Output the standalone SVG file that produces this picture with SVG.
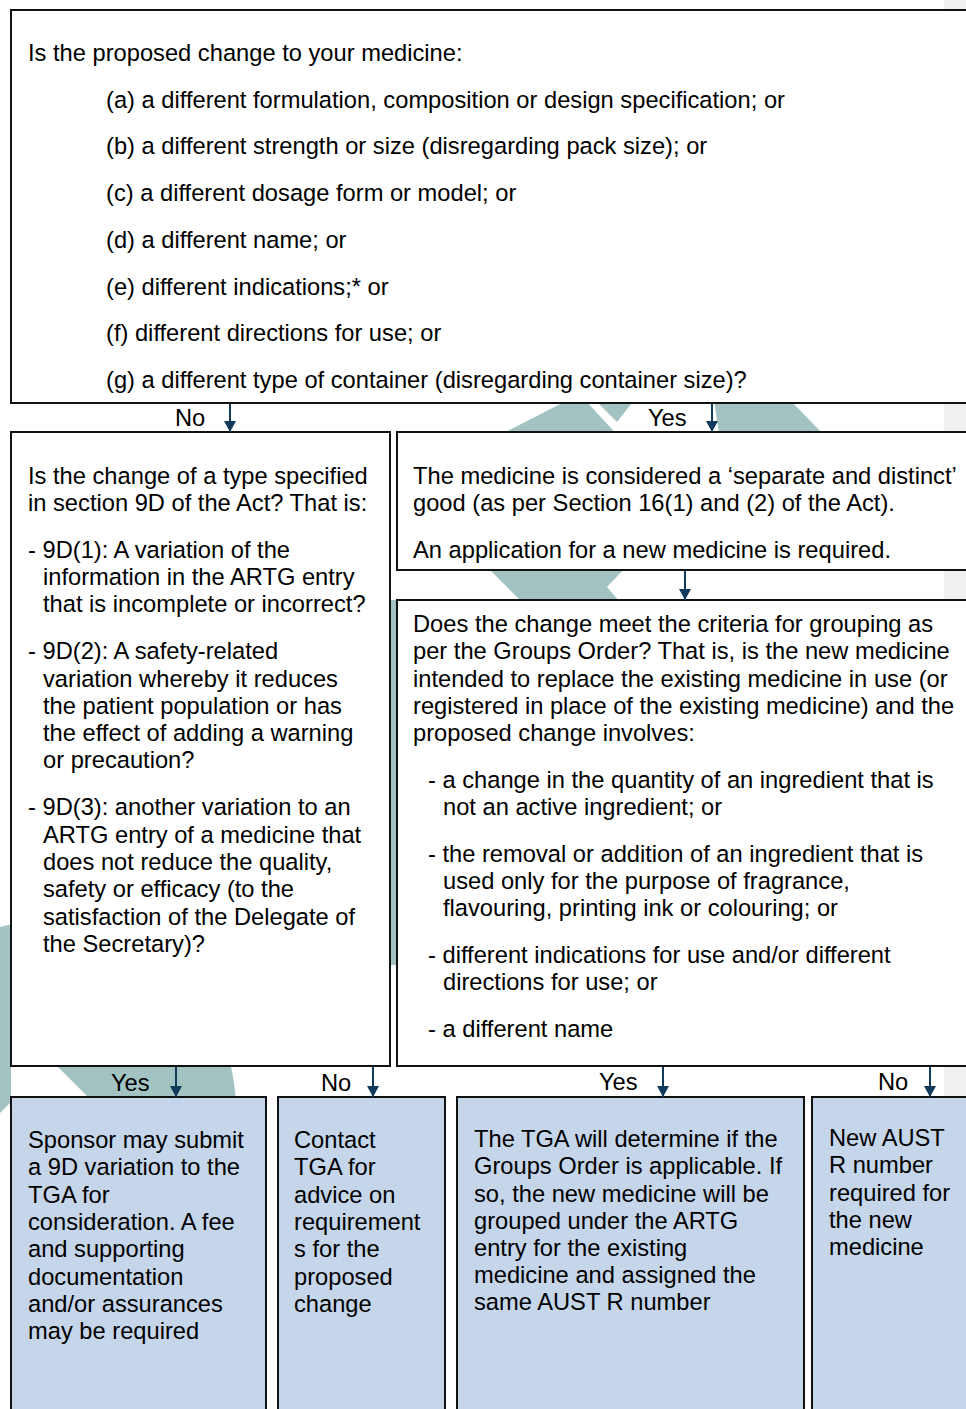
<svg xmlns="http://www.w3.org/2000/svg" width="966" height="1409" viewBox="0 0 966 1409">
<defs>
<style>
.t{font-family:"Liberation Sans",Arial,sans-serif;font-size:23.7px;fill:#000}
.box{fill:#fff;stroke:#111;stroke-width:2}
.out{fill:#c5d5ea;stroke:#111;stroke-width:2}
.wm{fill:#a3c2c2}
.arr{stroke:#0f3a5c;stroke-width:2;fill:none;marker-end:url(#ah)}
</style>
<marker id="ah" markerUnits="userSpaceOnUse" markerWidth="11" markerHeight="12" refX="11" refY="6" orient="auto" viewBox="0 0 11 12">
<path d="M0,0 L11,6 L0,12 z" fill="#0f3a5c"/>
</marker>
</defs>
<rect x="0" y="0" width="966" height="1409" fill="#fff"/>
<rect x="944" y="0" width="22" height="1409" fill="#f0f0f0"/>
<g id="watermark">
<polygon class="wm" points="490,440 568,400 585,400 622,440"/>
<polygon class="wm" points="598,403 632,403 617,422"/>
<polygon class="wm" points="714,400 790,400 823,434 719,434"/>
<polygon class="wm" points="486,566 627,566 607,587 620,602 522,602"/>
<rect class="wm" x="390" y="600" width="7" height="365"/>
<circle class="wm" cx="47" cy="1110" r="189"/>
<polygon fill="#fff" points="11,1066 57,1066 320,1329 0,1329 0,1113 11,1102"/>
</g>
<g id="q1">
<rect class="box" x="11" y="10" width="970" height="393"/>
<text class="t" x="28" y="61">Is the proposed change to your medicine:</text>
<text class="t" x="106" y="108">(a) a different formulation, composition or design specification; or</text>
<text class="t" x="106" y="154">(b) a different strength or size (disregarding pack size); or</text>
<text class="t" x="106" y="201">(c) a different dosage form or model; or</text>
<text class="t" x="106" y="248">(d) a different name; or</text>
<text class="t" x="106" y="295">(e) different indications;* or</text>
<text class="t" x="106" y="341">(f) different directions for use; or</text>
<text class="t" x="106" y="388">(g) a different type of container (disregarding container size)?</text>
</g>
<g id="q2">
<rect class="box" x="11" y="432" width="379" height="634"/>
<text class="t" x="28" y="484">Is the change of a type specified</text>
<text class="t" x="28" y="511">in section 9D of the Act? That is:</text>
<text class="t" x="28" y="558">- 9D(1): A variation of the</text>
<text class="t" x="43" y="585">information in the ARTG entry</text>
<text class="t" x="43" y="612">that is incomplete or incorrect?</text>
<text class="t" x="28" y="659">- 9D(2): A safety-related</text>
<text class="t" x="43" y="687">variation whereby it reduces</text>
<text class="t" x="43" y="714">the patient population or has</text>
<text class="t" x="43" y="741">the effect of adding a warning</text>
<text class="t" x="43" y="768">or precaution?</text>
<text class="t" x="28" y="815">- 9D(3): another variation to an</text>
<text class="t" x="43" y="843">ARTG entry of a medicine that</text>
<text class="t" x="43" y="870">does not reduce the quality,</text>
<text class="t" x="43" y="897">safety or efficacy (to the</text>
<text class="t" x="43" y="925">satisfaction of the Delegate of</text>
<text class="t" x="43" y="952">the Secretary)?</text>
</g>
<g id="separate">
<rect class="box" x="397" y="432" width="580" height="138"/>
<text class="t" x="413" y="484">The medicine is considered a ‘separate and distinct’</text>
<text class="t" x="413" y="511">good (as per Section 16(1) and (2) of the Act).</text>
<text class="t" x="413" y="558">An application for a new medicine is required.</text>
</g>
<g id="q3">
<rect class="box" x="397" y="600" width="580" height="466"/>
<text class="t" x="413" y="632">Does the change meet the criteria for grouping as</text>
<text class="t" x="413" y="659">per the Groups Order? That is, is the new medicine</text>
<text class="t" x="413" y="687">intended to replace the existing medicine in use (or</text>
<text class="t" x="413" y="714">registered in place of the existing medicine) and the</text>
<text class="t" x="413" y="741">proposed change involves:</text>
<text class="t" x="428" y="788">- a change in the quantity of an ingredient that is</text>
<text class="t" x="443" y="815">not an active ingredient; or</text>
<text class="t" x="428" y="862">- the removal or addition of an ingredient that is</text>
<text class="t" x="443" y="889">used only for the purpose of fragrance,</text>
<text class="t" x="443" y="916">flavouring, printing ink or colouring; or</text>
<text class="t" x="428" y="963">- different indications for use and/or different</text>
<text class="t" x="443" y="990">directions for use; or</text>
<text class="t" x="428" y="1037">- a different name</text>
</g>
<g id="out1">
<rect class="out" x="11" y="1097" width="255" height="330"/>
<text class="t" x="28" y="1148">Sponsor may submit</text>
<text class="t" x="28" y="1175">a 9D variation to the</text>
<text class="t" x="28" y="1203">TGA for</text>
<text class="t" x="28" y="1230">consideration. A fee</text>
<text class="t" x="28" y="1257">and supporting</text>
<text class="t" x="28" y="1285">documentation</text>
<text class="t" x="28" y="1312">and/or assurances</text>
<text class="t" x="28" y="1339">may be required</text>
</g>
<g id="out2">
<rect class="out" x="278" y="1097" width="167" height="330"/>
<text class="t" x="294" y="1148">Contact</text>
<text class="t" x="294" y="1175">TGA for</text>
<text class="t" x="294" y="1203">advice on</text>
<text class="t" x="294" y="1230">requirement</text>
<text class="t" x="294" y="1257">s for the</text>
<text class="t" x="294" y="1285">proposed</text>
<text class="t" x="294" y="1312">change</text>
</g>
<g id="out3">
<rect class="out" x="457" y="1097" width="347" height="330"/>
<text class="t" x="474" y="1147">The TGA will determine if the</text>
<text class="t" x="474" y="1174">Groups Order is applicable. If</text>
<text class="t" x="474" y="1202">so, the new medicine will be</text>
<text class="t" x="474" y="1229">grouped under the ARTG</text>
<text class="t" x="474" y="1256">entry for the existing</text>
<text class="t" x="474" y="1283">medicine and assigned the</text>
<text class="t" x="474" y="1310">same AUST R number</text>
</g>
<g id="out4">
<rect class="out" x="812" y="1097" width="170" height="330"/>
<text class="t" x="829" y="1146">New AUST</text>
<text class="t" x="829" y="1173">R number</text>
<text class="t" x="829" y="1201">required for</text>
<text class="t" x="829" y="1228">the new</text>
<text class="t" x="829" y="1255">medicine</text>
</g>
<g id="connectors">
<path class="arr" d="M230,404 V432"/>
<path class="arr" d="M712,404 V432"/>
<path class="arr" d="M685,571 V600"/>
<path class="arr" d="M176,1067 V1097"/>
<path class="arr" d="M373,1067 V1097"/>
<path class="arr" d="M663,1067 V1097"/>
<path class="arr" d="M930,1067 V1097"/>
<text class="t" x="175" y="426">No</text>
<text class="t" x="648" y="426">Yes</text>
<text class="t" x="111" y="1091">Yes</text>
<text class="t" x="321" y="1091">No</text>
<text class="t" x="599" y="1090">Yes</text>
<text class="t" x="878" y="1090">No</text>
</g>
</svg>
